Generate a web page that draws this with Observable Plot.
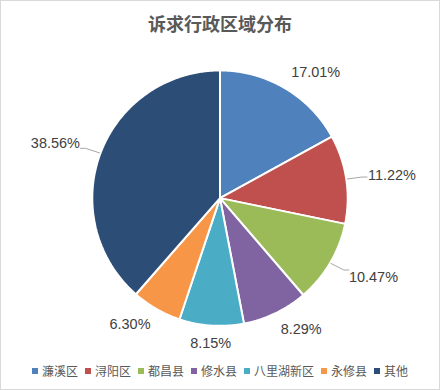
<!DOCTYPE html>
<html><head><meta charset="utf-8">
<script src="https://cdn.jsdelivr.net/npm/d3@7"></script>
<script src="https://cdn.jsdelivr.net/npm/@observablehq/plot@0.6"></script>
<style>
html,body{margin:0;padding:0;background:#fff;}
#chart{width:440px;height:390px;box-sizing:border-box;border:1px solid #d9d9d9;position:relative;overflow:hidden;font-family:"Noto Sans CJK SC",sans-serif;background:#fff;}
#title{position:absolute;top:10px;left:0;width:100%;text-align:center;font-size:18px;font-weight:bold;color:#595959;line-height:24px;}
#plot{position:absolute;left:-1px;top:44px;}
#legend{position:absolute;top:361px;left:0;width:100%;display:flex;justify-content:center;gap:7px;font-size:12px;color:#595959;line-height:18px;}
#legend .item{display:flex;align-items:center;gap:4px;}
#legend .sw{width:6px;height:6px;display:inline-block;}
</style></head>
<body>
<div id="chart">
  <div id="title">诉求行政区域分布</div>
  <div id="plot"></div>
  <div id="legend"></div>
</div>
<script>
const categories = ["濂溪区","浔阳区","都昌县","修水县","八里湖新区","永修县","其他"];
const shares = [17.01, 11.22, 10.47, 8.29, 8.15, 6.30, 38.56];
const colors = ["#4F81BD","#C0504D","#9BBB59","#8064A2","#4BACC6","#F79646","#2C4D75"];
const leaderLabels = ["浔阳区","都昌县","其他"];

const R = 128;
const data = categories.map((c, i) => ({cat: c, value: shares[i], label: shares[i].toFixed(2) + "%"}));
const arcs = d3.pie().sort(null).value(d => d.value)(data);

const slicePts = arcs.flatMap(a => {
  const n = Math.max(4, Math.ceil((a.endAngle - a.startAngle) / 0.01));
  const pts = [{cat: a.data.cat, x: 0, y: 0}];
  for (let i = 0; i <= n; i++) {
    const t = a.startAngle + (a.endAngle - a.startAngle) * i / n;
    pts.push({cat: a.data.cat, x: R * Math.sin(t), y: R * Math.cos(t)});
  }
  pts.push({cat: a.data.cat, x: 0, y: 0});
  return pts;
});

const labels = arcs.map(a => {
  const m = (a.startAngle + a.endAngle) / 2;
  const s = Math.sin(m), c = Math.cos(m);
  const leader = leaderLabels.includes(a.data.cat);
  const r = R + (leader ? 22 : 12);
  const anchor = s > 0.25 ? "start" : s < -0.25 ? "end" : "middle";
  return {cat: a.data.cat, label: a.data.label, x: r * s, y: r * c + 6 * c, anchor, leader, s, c};
});

const leaderPts = labels.filter(d => d.leader).flatMap(d => [
  {cat: d.cat, x: (R + 1) * d.s, y: (R + 1) * d.c},
  {cat: d.cat, x: (R + 16) * d.s, y: (R + 14) * d.c},
  {cat: d.cat, x: (R + 16) * d.s + (d.s > 0 ? 5 : -5), y: (R + 14) * d.c}
]);

const textOpts = {x: "x", y: "y", text: "label", fill: "#404040", fontSize: 14.5, fontFamily: "Liberation Sans, Arial, sans-serif"};

const plot = Plot.plot({
  width: 440, height: 313,
  margin: 0,
  x: {domain: [-220, 220], axis: null},
  y: {domain: [-160, 153], axis: null},
  color: {domain: categories, range: colors},
  marks: [
    Plot.line(slicePts, {x: "x", y: "y", z: "cat", fill: "cat", stroke: "white", strokeWidth: 2, curve: "linear", strokeLinejoin: "miter"}),
    Plot.line(leaderPts, {x: "x", y: "y", z: "cat", stroke: "#A6A6A6", strokeWidth: 1}),
    Plot.text(labels.filter(d => d.anchor === "start"), {...textOpts, textAnchor: "start"}),
    Plot.text(labels.filter(d => d.anchor === "end"), {...textOpts, textAnchor: "end"}),
    Plot.text(labels.filter(d => d.anchor === "middle"), {...textOpts, textAnchor: "middle"})
  ]
});
document.getElementById("plot").appendChild(plot);

const legend = document.getElementById("legend");
categories.forEach((c, i) => {
  const item = document.createElement("span");
  item.className = "item";
  const sw = document.createElement("span");
  sw.className = "sw";
  sw.style.background = colors[i];
  const tx = document.createElement("span");
  tx.textContent = c;
  item.appendChild(sw); item.appendChild(tx);
  legend.appendChild(item);
});
</script>
</body></html>
